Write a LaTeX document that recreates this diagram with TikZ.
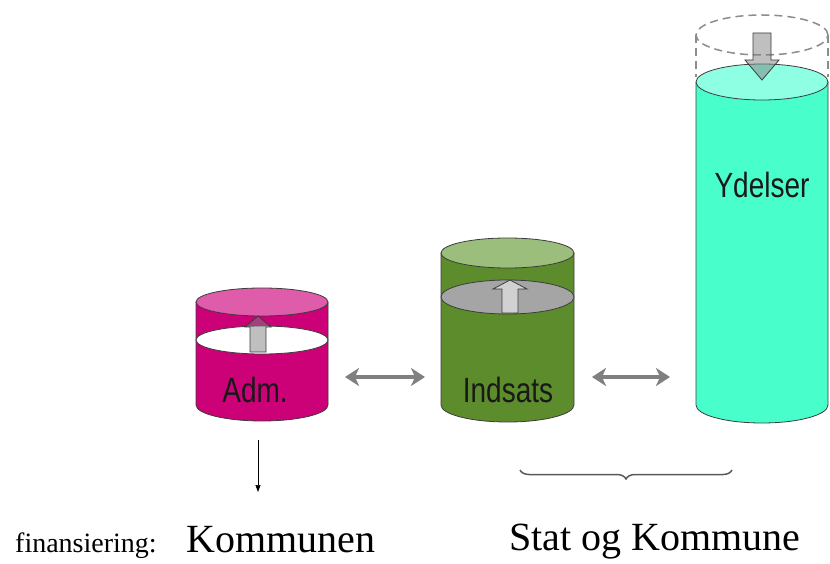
\documentclass[tikz,border=0pt]{standalone}
\usepackage{fontspec}
\usepackage{graphicx}
\setmainfont{Liberation Serif}
\setsansfont{Liberation Sans}
\usetikzlibrary{arrows.meta,decorations.pathreplacing}
\definecolor{admbody}{RGB}{204,0,119}
\definecolor{admtop}{RGB}{222,92,170}
\definecolor{indbody}{RGB}{92,140,44}
\definecolor{indtop}{RGB}{156,190,124}
\definecolor{indmid}{RGB}{165,165,165}
\definecolor{ydbody}{RGB}{72,255,204}
\definecolor{ydtop}{RGB}{142,255,226}
\definecolor{arrgray}{RGB}{128,128,128}
\definecolor{outl}{RGB}{60,60,60}
\tikzset{
  cylout/.style={draw=outl, line width=0.8pt},
  blockarrow/.style={draw=outl, line width=0.8pt, fill=black!50, fill opacity=0.5},
  blockarrowsolid/.style={draw=outl, line width=0.8pt, fill=black!18},
  dblarrow/.style={arrgray, line width=4.5pt, {Stealth[length=14pt,width=18pt,inset=4pt]}-{Stealth[length=14pt,width=18pt,inset=4pt]}},
  cyllabel/.style={font=\sffamily\fontsize{28}{30}\selectfont, text=black!90, inner sep=0pt},
  serifbig/.style={font=\fontsize{40}{44}\selectfont, inner sep=0pt},
  serifsmall/.style={font=\fontsize{28}{30}\selectfont, inner sep=0pt}
}
\begin{document}
\begin{tikzpicture}[x=1pt,y=1pt]
\useasboundingbox (0,0) rectangle (830,563);

% ---------- Adm. cylinder ----------
\fill[admbody] (196,261) -- (196,158) arc[start angle=180,end angle=360,x radius=66,y radius=16] -- (328,261) -- cycle;
\draw[cylout] (196,261) -- (196,158) arc[start angle=180,end angle=360,x radius=66,y radius=16] -- (328,261);
\draw[cylout, fill=admtop] (262,261) ellipse[x radius=66, y radius=14];
\draw[cylout, fill=white] (262,223) ellipse[x radius=66, y radius=14];
\draw[blockarrow] (250,211) -- (250,236) -- (245,236) -- (258,247) -- (271,236) -- (266,236) -- (266,211) -- cycle;
\node[cyllabel] (adm) at (255,173) {\scalebox{1}[1.25]{Adm.}};

% ---------- Indsats cylinder ----------
\fill[indbody] (441,310) -- (441,158) arc[start angle=180,end angle=360,x radius=66.5,y radius=17] -- (574,310) -- cycle;
\draw[cylout] (441,310) -- (441,158) arc[start angle=180,end angle=360,x radius=66.5,y radius=17] -- (574,310);
\draw[cylout, fill=indtop] (507.5,310) ellipse[x radius=66.5, y radius=15];
\draw[cylout, fill=indmid] (507.5,266) ellipse[x radius=66.5, y radius=17];
\draw[blockarrowsolid] (502,250) -- (502,274) -- (493,274) -- (510,283) -- (527,274) -- (518,274) -- (518,250) -- cycle;
\node[cyllabel] (ind) at (508,173) {\scalebox{1}[1.25]{Indsats}};

% ---------- Ydelser cylinder ----------
\draw[black!45, line width=1.5pt, dash pattern=on 8pt off 5pt] (762,528) ellipse[x radius=66, y radius=20];
\draw[black!45, line width=1.5pt, dash pattern=on 8pt off 5pt] (696,528) -- (696,486);
\draw[black!45, line width=1.5pt, dash pattern=on 8pt off 5pt] (828,528) -- (828,486);
\fill[ydbody] (696,481) -- (696,158) arc[start angle=180,end angle=360,x radius=66,y radius=18] -- (828,481) -- cycle;
\draw[cylout] (696,481) -- (696,158) arc[start angle=180,end angle=360,x radius=66,y radius=18] -- (828,481);
\draw[cylout, fill=ydtop] (762,481) ellipse[x radius=66, y radius=18];
\draw[blockarrow] (753,530) -- (753,503) -- (745,503) -- (762,483) -- (779,503) -- (771,503) -- (771,530) -- cycle;
\node[cyllabel] (yd) at (762,378) {\scalebox{1}[1.25]{Ydelser}};

% ---------- double arrows ----------
\coordinate (d1a) at (345,186);
\coordinate (d1b) at (425,186);
\coordinate (d2a) at (592,186);
\coordinate (d2b) at (670,186);
\draw[dblarrow] (d1a) -- (d1b);
\draw[dblarrow] (d2a) -- (d2b);

% ---------- small arrow ----------
\coordinate (sa) at (258,123);
\coordinate (sb) at (258,71);
\draw[black, line width=0.7pt, -{Triangle[length=7pt,width=5pt]}] (sa) -- (sb);

% ---------- brace ----------
\coordinate (br1) at (520,93);
\coordinate (br2) at (732,93);
\draw[black!65, line width=1.5pt, decorate, decoration={brace, mirror, amplitude=9pt}] (br1) -- (br2);

% ---------- bottom texts ----------
\node[serifsmall, anchor=base west] (fin) at (15,11) {finansiering:};
\node[serifbig, anchor=base] (komm) at (281,11) {Kommunen};
\node[serifbig, anchor=base] (stat) at (655,13) {Stat og Kommune};
\end{tikzpicture}
\end{document}
